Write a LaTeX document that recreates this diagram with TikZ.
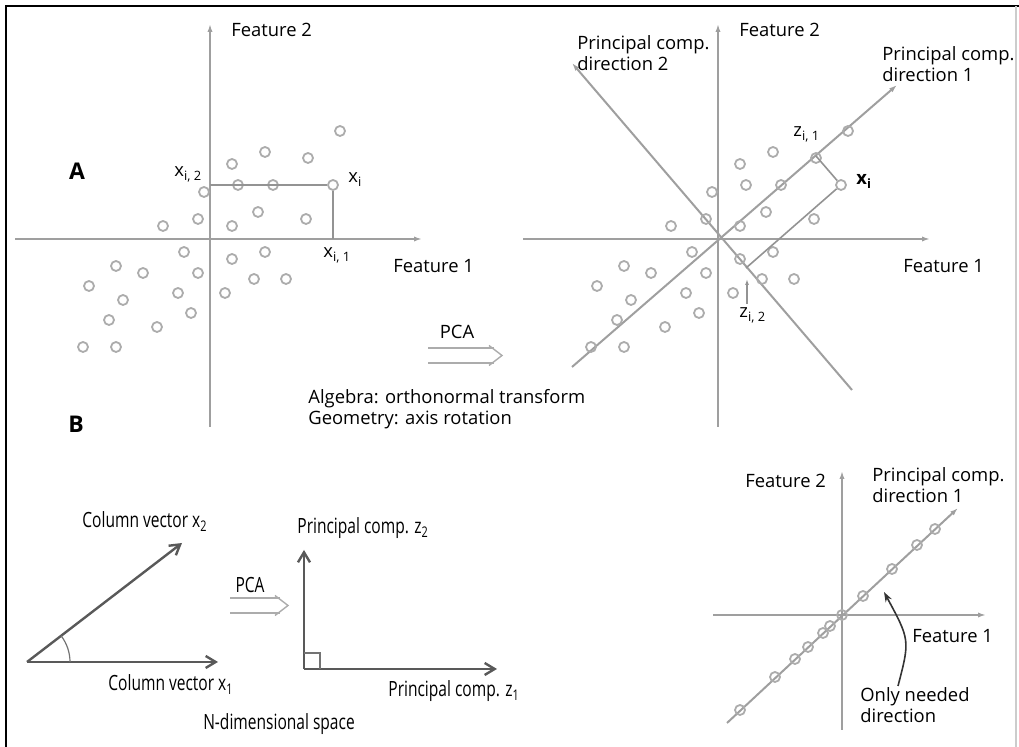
\documentclass[tikz,border=0pt]{standalone}
\usepackage{fontspec}
\setmainfont{Open Sans}
\newfontfamily\condfont{Open Sans}[FakeStretch=0.74]
\usetikzlibrary{arrows.meta,positioning}
\newcommand{\sublbl}[2]{#1\textsubscript{#2}}

\begin{document}
\begin{tikzpicture}[x=0.5pt, y=-0.5pt, >=Stealth,
  axis/.style={draw=gray!75, line width=1pt, -{Latex[length=4pt,width=2.6pt]}},
  pt/.style={circle, draw=gray!65, line width=0.9pt, minimum size=5pt, inner sep=0pt},
  proj/.style={draw=gray!85, line width=0.8pt},
  lbl/.style={inner sep=0pt, align=left, font=\fontsize{9.2}{10.5}\selectfont},
  clbl/.style={inner sep=0pt, font=\fontsize{10.5}{12}\selectfont\condfont},
  vec/.style={draw=black!65, line width=1.2pt, -{Straight Barb[length=5pt,width=6pt]}},
  pca/.style={draw=gray!65, line width=0.7pt},
]
  \useasboundingbox (0,0) rectangle (1019,747);
  % frame
  \draw[line width=1pt] (6,747) -- (6,6) -- (1019,6);
  \draw[gray!40, line width=0.6pt] (1016,6) -- (1016,747);

  % A, left: data in feature axes
  \draw[axis] (15,239) -- (422,239);
  \draw[axis] (210,427) -- (210,24);
  \foreach \px/\py [count=\k] in {340/131, 265/152, 308/158, 232/164, 238/185, 273/185,
      204/192, 258/212, 306/219, 198/219, 163/226, 232/226, 184/252, 265/252, 232/259,
      116/266, 143/273, 198/273, 89/286, 254/279, 286/279, 123/300, 178/293, 225/293,
      109/320, 191/313, 157/327, 83/347, 116/347}
    \node[pt] (a\k) at (\px,\py) {};
  \node[pt] (xiA) at (333,185) {};
  \coordinate (xa2) at (210,185);
  \coordinate (xa1) at (333,239);
  \draw[proj] (xa2) -- (xiA);
  \draw[proj] (xiA) -- (xa1);
  \node[lbl, anchor=base west] (f2a) at (231,37) {Feature 2};
  \node[lbl, anchor=base west] (f1a) at (393,273) {Feature 1};
  \node[lbl, anchor=base west] (lx2) at (174,177) {\sublbl{x}{i, 2}};
  \node[lbl, anchor=base west] (lxi) at (348,183) {\sublbl{x}{i}};
  \node[lbl, anchor=base west] (lx1) at (323,258) {\sublbl{x}{i, 1}};
  \node[inner sep=0pt, font=\fontsize{11.5}{13}\selectfont\bfseries] (partA) at (77,171) {A};
  \node[inner sep=0pt, font=\fontsize{11.5}{13}\selectfont\bfseries] (partB) at (76,424) {B};

  % transform
  \coordinate (pcaA) at (428,355.5);
  \draw[pca] (pcaA) ++(0,-7.5) -- ++(66,0) (pcaA) ++(0,7.5) -- ++(66,0);
  \draw[pca] (pcaA) ++(61,-10) -- ++(13,10) -- ++(-13,10);
  \node[lbl] (pcaAt) at (457,332) {PCA};
  \node[lbl, anchor=base west] (alg) at (308,425) {Algebra: orthonormal transform\\Geometry: axis rotation};

  % A, right: rotated axes
  \draw[axis] (523,239) -- (930,239);
  \draw[axis] (718,427) -- (718,24);
  \draw[axis] (572,367) -- (897,85);
  \draw[axis] (852,390) -- (572,63);
  \foreach \px/\py [count=\k] in {340/131, 265/152, 308/158, 232/164, 238/185, 273/185,
      204/192, 258/212, 306/219, 198/219, 163/226, 232/226, 184/252, 265/252, 232/259,
      116/266, 143/273, 198/273, 89/286, 254/279, 286/279, 123/300, 178/293, 225/293,
      109/320, 191/313, 157/327, 83/347, 116/347}
    \node[pt] (b\k) at (\px+508,\py) {};
  \node[pt] (xiB) at (841,185) {};
  \coordinate (z1) at (816,156);
  \coordinate (z2) at (746,268);
  \draw[proj] (z1) -- (xiB);
  \draw[proj] (xiB) -- (z2);
  \node[lbl, anchor=base west] (f2b) at (739,37) {Feature 2};
  \node[lbl, anchor=base west] (f1b) at (903,273) {Feature 1};
  \node[lbl, anchor=base west] (pc2) at (577,71) {Principal comp.\\direction 2};
  \node[lbl, anchor=base west] (pc1) at (882,82) {Principal comp.\\direction 1};
  \node[lbl, anchor=base west] (lz1) at (793,137) {\sublbl{z}{i, 1}};
  \node[lbl, anchor=base west, font=\fontsize{9.2}{10.5}\selectfont\bfseries] (lxib) at (856,185) {\sublbl{x}{i}};
  \node[lbl, anchor=base west] (lz2) at (739,318) {\sublbl{z}{i, 2}};
  \coordinate (z2a) at (747,304);
  \coordinate (z2b) at (747,279);
  \draw[proj, -{Latex[length=3pt,width=2pt]}] (z2a) -- (z2b);

  % B, left: column vectors
  \coordinate (o) at (27,662);
  \coordinate (v1) at (218,662);
  \coordinate (v2) at (182,543);
  \draw[vec] (o) -- (v1);
  \draw[vec] (o) -- (v2);
  \draw[black!55, line width=0.6pt] (70,662) arc[start angle=0, end angle=-37.5, radius=43];
  \node[clbl, anchor=base west] (cv2) at (82,528) {Column vector \sublbl{x}{2}};
  \node[clbl, anchor=base west] (cv1) at (108,691) {Column vector \sublbl{x}{1}};
  \coordinate (pcaB) at (230,605.5);
  \draw[pca] (pcaB) ++(0,-7.5) -- ++(50,0) (pcaB) ++(0,7.5) -- ++(50,0);
  \draw[pca] (pcaB) ++(45,-10) -- ++(13,10) -- ++(-13,10);
  \node[clbl] (pcaBt) at (250,585) {PCA};

  % B, middle: principal components
  \coordinate (oz) at (304,669);
  \coordinate (zz1) at (497,669);
  \coordinate (zz2) at (304,550);
  \draw[vec] (oz) -- (zz2);
  \draw[vec] (oz) -- (zz1);
  \draw[black!55, line width=0.6pt] (304,653) -| (320,669);
  \node[clbl, anchor=base west] (pz2) at (297,534) {Principal comp. \sublbl{z}{2}};
  \node[clbl, anchor=base west] (pz1) at (388,697) {Principal comp. \sublbl{z}{1}};
  \node[clbl, anchor=base] (nds) at (279,730) {N-dimensional space};

  % B, right: data on one direction
  \draw[axis] (713,615) -- (986,615);
  \draw[axis] (842,730) -- (842,471);
  \draw[axis] (727,723) -- (958,508);
  \foreach \px/\py [count=\k] in {935/529, 917/545, 892/569, 863/596, 842/615, 830/626,
      823/633, 808/647, 795/659, 775/677, 740/710}
    \node[pt] (c\k) at (\px,\py) {};
  \node[lbl, anchor=base west] (f2c) at (745,488) {Feature 2};
  \node[lbl, anchor=base west] (pc1c) at (872,503) {Principal comp.\\direction 1};
  \node[lbl, anchor=base west] (f1c) at (912,643) {Feature 1};
  \node[lbl, anchor=base west] (only) at (860,723) {Only needed\\direction};
  \coordinate (onS) at (898,686);
  \coordinate (onE) at (884,592);
  \draw[black!80, line width=0.8pt, -{Stealth[length=5pt,width=3.5pt]}] (onS) .. controls (910,640) .. (onE);
\end{tikzpicture}
\end{document}
